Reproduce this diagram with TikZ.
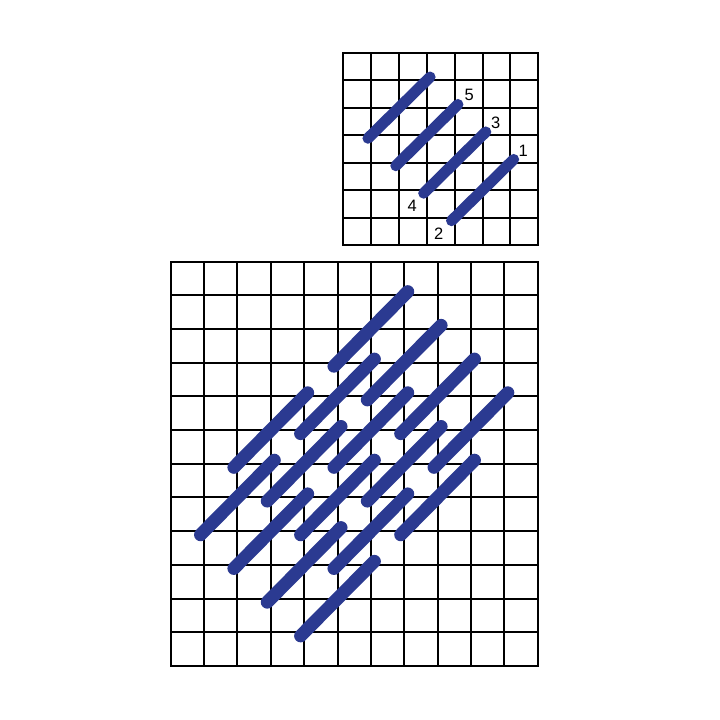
\documentclass[tikz,border=0pt]{standalone}
\usepackage{fontspec}
\setmainfont{Liberation Sans}
\definecolor{stitchblue}{RGB}{43,58,145}
\begin{document}
\begin{tikzpicture}[x=1pt,y=-1pt,
  gridline/.style={line width=2pt, black, line cap=rect},
  bigstitch/.style={line width=13pt, stitchblue, line cap=round, shorten <=-5pt, shorten >=-5pt},
  smallstitch/.style={line width=11pt, stitchblue, line cap=round, shorten <=-4.5pt, shorten >=-4.5pt},
  numlabel/.style={font=\fontsize{16.5}{16.5}\selectfont, inner sep=0pt}]
\useasboundingbox (0,0) rectangle (720,720);
\fill[white] (0,0) rectangle (720,720);
% small grid
\begin{scope}[shift={(343.3,52.7)}, x=27.86pt, y=-27.47pt]
  \foreach \i in {0,...,7} {
    \draw[gridline] (\i,0) -- (\i,7);
    \draw[gridline] (0,\i) -- (7,\i);
  }
  \foreach \c/\r in {3/1,4/2,5/3,6/4}
    \draw[smallstitch] (\c,\r) -- (\c-2,\r+2);
\end{scope}
\node[numlabel] (n5) at (469.2,95.2) {5};
\node[numlabel] (n3) at (495.8,122.5) {3};
\node[numlabel] (n1) at (523.3,150.8) {1};
\node[numlabel] (n4) at (412.2,205.8) {4};
\node[numlabel] (n2) at (438.8,234.2) {2};
% big grid
\begin{scope}[shift={(170.7,261.5)}, x=33.36pt, y=-33.71pt]
  \foreach \i in {0,...,11}
    \draw[gridline] (\i,0) -- (\i,12);
  \foreach \j in {0,...,12}
    \draw[gridline] (0,\j) -- (11,\j);
  \foreach \c/\r in {7/1,6/3,4/4,3/6}
    \foreach \k in {0,...,3}
      \draw[bigstitch] (\c+\k,\r+\k) -- (\c+\k-2,\r+\k+2);
\end{scope}
\end{tikzpicture}
\end{document}
